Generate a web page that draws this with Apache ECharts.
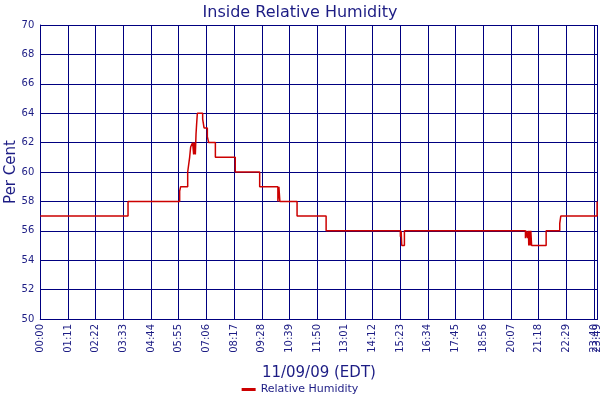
<!DOCTYPE html>
<html>
<head>
<meta charset="utf-8">
<script src="https://cdn.jsdelivr.net/npm/echarts@6/dist/echarts.min.js"></script>
<style>html,body{margin:0;padding:0;background:#fff}#c{width:600px;height:400px}</style>
</head>
<body>
<div id="c"></div>
<script>
// minutes after midnight where the reading changes, and the reading from then on
var times = [0, 225, 357.4, 360, 378, 383, 385.6, 390.7, 393.3, 395, 397.6, 399.4, 401, 402.8,
  416.4, 420, 428.4, 431.8, 449, 500, 562.6, 609.3, 611.9, 614.4, 658.5, 733,
  923.5, 925.4, 927, 933.8,
  1244.2, 1246.8, 1249.4, 1252, 1252.7, 1254.5, 1256.2, 1258, 1260,
  1297.3, 1332.2, 1334.8, 1428, 1429];
var values = [57, 58, 58.7, 59, 60, 61, 61.7, 62, 61.2, 62, 61.2, 62.6, 63.3, 64,
  63.6, 63, 62.4, 62, 61, 60, 59, 58, 59, 58, 57, 56,
  55.6, 56, 55, 56,
  55.5, 56, 55.5, 56, 55, 56, 55, 56, 55,
  56, 56.5, 57, 58, 58];
var seriesName = 'Relative Humidity';
var yTicks = {min: 50, max: 70, interval: 2};
var xTicks = {min: 0, max: 1429, interval: 71};
var lastRegularTick = 1420; // 23:40, drawn next to the 23:49 end label

var data = times.map(function (t, i) { return [t, values[i]]; });
function hhmm(m) {
  var h = Math.floor(m / 60), mm = Math.round(m - h * 60);
  return (h < 10 ? '0' : '') + h + ':' + (mm < 10 ? '0' : '') + mm;
}
var navy = '#000080';
var txt = '#1c1c84';
var font = 'DejaVu Sans';
var labelBase = {rotate: 90, color: txt, fontFamily: font, fontSize: 10, margin: 5};
var chart = echarts.init(document.getElementById('c'));
chart.setOption({
  animation: false,
  title: {
    text: 'Inside Relative Humidity', left: 'center', top: 0,
    textStyle: {color: txt, fontFamily: font, fontSize: 16, fontWeight: 'normal'}
  },
  legend: {
    bottom: 0, left: 'center', itemWidth: 14, itemHeight: 3, icon: 'rect',
    textStyle: {color: txt, fontFamily: font, fontSize: 11},
    data: [seriesName]
  },
  grid: {left: 40.3, right: 2.5, top: 25, bottom: 81, containLabel: false, outerBoundsMode: 'none'},
  xAxis: [{
    type: 'value', min: xTicks.min, max: xTicks.max, interval: xTicks.interval,
    name: '11/09/09 (EDT)', nameLocation: 'middle', nameGap: 47, nameMoveOverlap: false,
    nameTextStyle: {color: txt, fontFamily: font, fontSize: 15},
    axisLine: {show: true, lineStyle: {color: navy, width: 1}},
    axisTick: {show: false},
    splitLine: {show: true, lineStyle: {color: navy, width: 1}},
    axisLabel: Object.assign({}, labelBase, {
      showMinLabel: true, showMaxLabel: true, hideOverlap: false,
      formatter: function (v) { return hhmm(v); }
    })
  }, {
    type: 'value', min: xTicks.min, max: xTicks.max, interval: xTicks.interval,
    position: 'bottom',
    axisLine: {show: false}, axisTick: {show: false}, splitLine: {show: false},
    axisLabel: Object.assign({}, labelBase, {
      showMinLabel: false, showMaxLabel: false, hideOverlap: false,
      formatter: function (v) { return Math.abs(v - lastRegularTick) < 0.5 ? hhmm(v) : ''; }
    })
  }],
  yAxis: {
    type: 'value', min: yTicks.min, max: yTicks.max, interval: yTicks.interval,
    name: 'Per Cent', nameLocation: 'middle', nameGap: 22, nameMoveOverlap: false,
    nameTextStyle: {color: txt, fontFamily: font, fontSize: 15},
    axisLine: {show: true, lineStyle: {color: navy, width: 1}},
    axisTick: {show: false},
    splitLine: {show: true, lineStyle: {color: navy, width: 1}},
    axisLabel: {color: txt, fontFamily: font, fontSize: 10, margin: 6}
  },
  series: [{
    name: seriesName, type: 'line', step: 'end', data: data, xAxisIndex: 0,
    showSymbol: false, symbol: 'none',
    lineStyle: {color: '#cc0000', width: 1.5},
    itemStyle: {color: '#cc0000'}
  }]
});
</script>
</body>
</html>
